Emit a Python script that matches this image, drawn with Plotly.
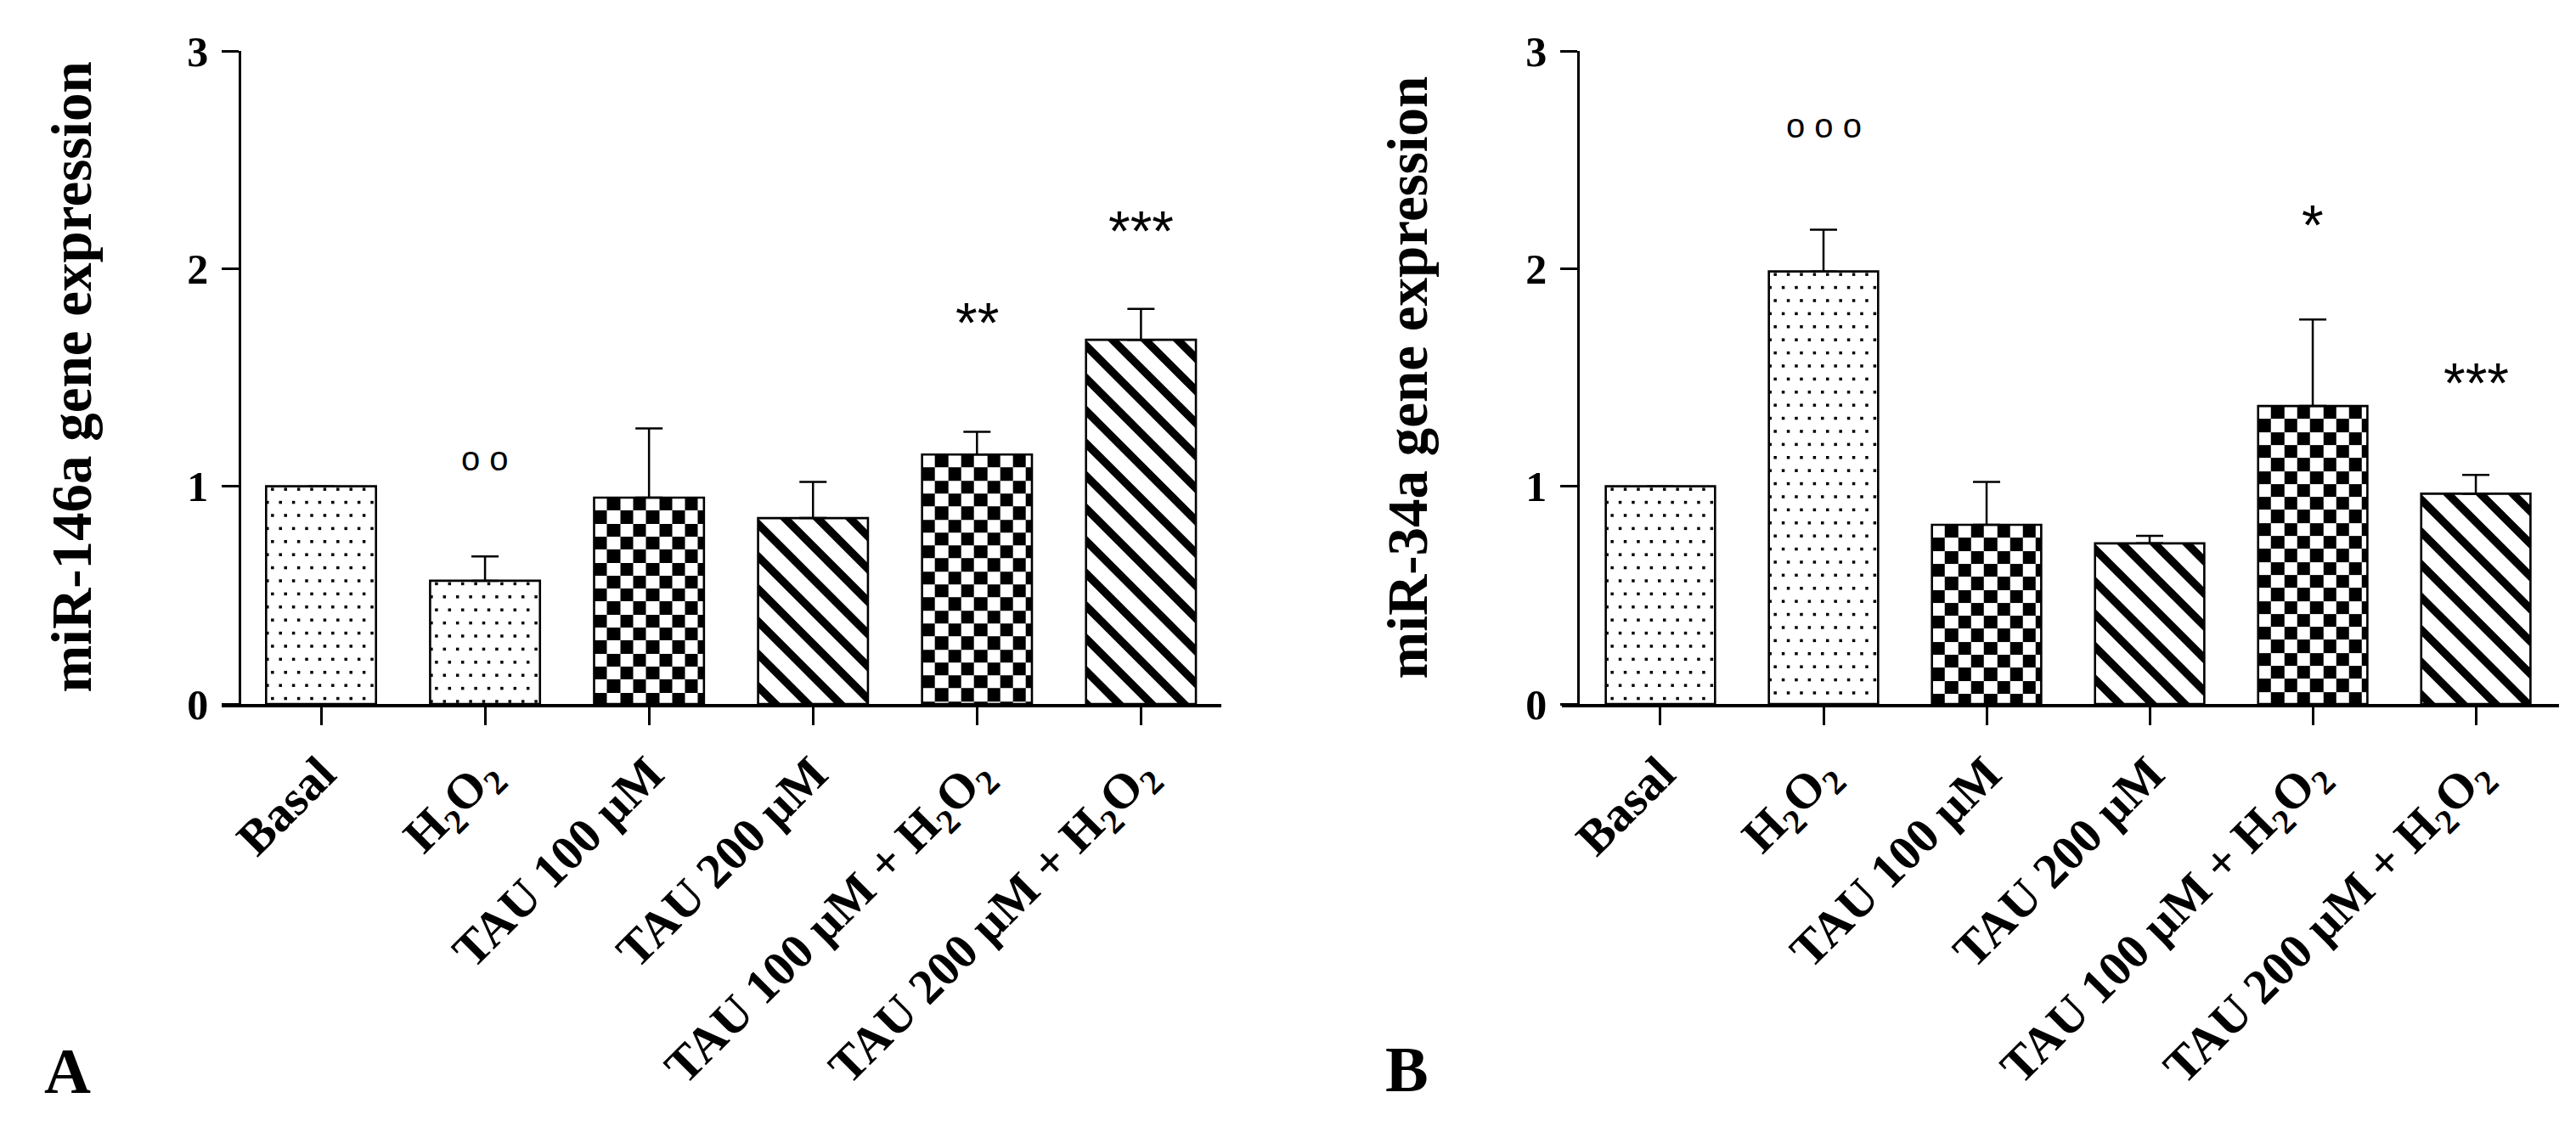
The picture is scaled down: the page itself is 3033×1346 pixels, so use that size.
import plotly.graph_objects as go

# ---------------- data ----------------
categories = ["Basal", "H<sub>2</sub>O<sub>2</sub>", "TAU 100 µM", "TAU 200 µM",
              "TAU 100 µM + H<sub>2</sub>O<sub>2</sub>", "TAU 200 µM + H<sub>2</sub>O<sub>2</sub>"]
fills = ["dots", "dots", "checker", "stripes", "checker", "stripes"]

mir146a_mean = [1.00, 0.566, 0.948, 0.854, 1.146, 1.673]
mir146a_err = [0.0, 0.112, 0.318, 0.166, 0.104, 0.142]
mir146a_sig = ["", "o o", "", "", "**", "***"]
mir146a_sig_y = [None, 1.117, None, None, 1.773, 2.193]

mir34a_mean = [1.00, 1.987, 0.823, 0.738, 1.369, 0.966]
mir34a_err = [0.0, 0.192, 0.197, 0.034, 0.397, 0.086]
mir34a_sig = ["", "o o o", "", "", "*", "***"]
mir34a_sig_y = [None, 2.646, None, None, 2.218, 1.496]

y_ticks = [0, 1, 2, 3]
panel_titles = ["miR-146a gene expression", "miR-34a gene expression"]
panel_letters = ["A", "B"]

# ---------------- geometry / style ----------------
W, H = 3033, 1346
SERIF = "Liberation Serif, Times New Roman, serif"
SANS = "Liberation Sans, Arial, sans-serif"
BAR_W = 0.67
YDOM = [1 - 829 / H, 1 - 60 / H]
YR = [0, 3]
panels = [
    dict(xdom=[261 / W, 1438 / W], ypos=282 / W, xr=[-0.606, 5.49],
         title_x=84 / W, letter_x=79 / W, letter_y=1 - 1261 / H),
    dict(xdom=[1839 / W, 3013 / W], ypos=1858 / W, xr=[-0.604, 5.51],
         title_x=1657 / W, letter_x=1656 / W, letter_y=1 - 1259 / H),
]
CELL_PX = 15.3        # checkerboard cell
DOT_STEP = 15.4       # dot lattice spacing
STRIPE_P = 38.3       # stripe horizontal period
STRIPE_T = 13.3       # stripe horizontal black width

x_pos = list(range(len(categories)))

fig = go.Figure()


def clip_poly(poly, w, h):
    """Sutherland-Hodgman clip of polygon to rectangle [0,w]x[0,h]."""
    def clip(pts, inside, inter):
        out = []
        n = len(pts)
        for i in range(n):
            cur, prev = pts[i], pts[i - 1]
            ci, pi = inside(cur), inside(prev)
            if ci:
                if not pi:
                    out.append(inter(prev, cur))
                out.append(cur)
            elif pi:
                out.append(inter(prev, cur))
        return out

    def ix(xv):
        return lambda p, q: (xv, p[1] + (q[1] - p[1]) * (xv - p[0]) / (q[0] - p[0]))

    def iy(yv):
        return lambda p, q: (p[0] + (q[0] - p[0]) * (yv - p[1]) / (q[1] - p[1]), yv)

    pts = poly
    for inside, inter in [(lambda p: p[0] >= 0, ix(0)), (lambda p: p[0] <= w, ix(w)),
                          (lambda p: p[1] >= 0, iy(0)), (lambda p: p[1] <= h, iy(h))]:
        if not pts:
            break
        pts = clip(pts, inside, inter)
    return pts


def add_panel(i, means, errs, sigs, sig_y):
    p = panels[i]
    xa = "x" if i == 0 else "x2"
    ya = "y" if i == 0 else "y2"
    plot_w = (p["xdom"][1] - p["xdom"][0]) * W
    plot_h = (YDOM[1] - YDOM[0]) * H
    sx = plot_w / (p["xr"][1] - p["xr"][0])   # px per x unit
    sy = plot_h / (YR[1] - YR[0])             # px per y unit
    dx, dy = CELL_PX / sx, CELL_PX / sy

    # checkerboard fills as heatmaps inside bar extents
    for xc, v, f in zip(x_pos, means, fills):
        if f != "checker":
            continue
        left, right = xc - BAR_W / 2, xc + BAR_W / 2
        xe = [left]
        while xe[-1] + dx < right - 1e-9:
            xe.append(xe[-1] + dx)
        xe.append(right)
        yt = [v]
        while yt[-1] - dy > 1e-9:
            yt.append(yt[-1] - dy)
        yt.append(0.0)
        ye = yt[::-1]
        nr, nc = len(ye) - 1, len(xe) - 1
        z = [[((nr - 1 - r) + c) % 2 for c in range(nc)] for r in range(nr)]
        fig.add_trace(go.Heatmap(x=xe, y=ye, z=z, zmin=0, zmax=1,
                                 colorscale=[[0, "white"], [1, "black"]],
                                 showscale=False, hoverinfo="skip",
                                 xaxis=xa, yaxis=ya))

    colors = {"dots": "white", "checker": "rgba(0,0,0,0)", "stripes": "white"}
    fig.add_trace(go.Bar(
        x=x_pos, y=means, width=BAR_W,
        marker=dict(color=[colors[f] for f in fills],
                    line=dict(color="black", width=2.6)),
        error_y=dict(type="data", symmetric=False, array=errs,
                     arrayminus=[0] * len(errs), color="black",
                     thickness=2.5, width=16),
        xaxis=xa, yaxis=ya, showlegend=False, hoverinfo="skip"))

    # dotted and striped fills drawn inside each bar
    for xc, v, f in zip(x_pos, means, fills):
        left = xc - BAR_W / 2
        wpx = BAR_W * sx
        hpx = v * sy
        if f == "dots":
            dxs, dys = [], []
            r = 0
            Y = 3.5
            while Y < hpx - 1.5:
                X = 7.5 if r % 2 == 0 else 1.5
                while X <= wpx - 0.5:
                    dxs.append(left + X / sx)
                    dys.append(v - Y / sy)
                    X += DOT_STEP
                Y += DOT_STEP
                r += 1
            fig.add_trace(go.Scatter(x=dxs, y=dys, mode="markers",
                                     marker=dict(symbol="square", size=3.5, color="black",
                                                 line=dict(width=0)),
                                     xaxis=xa, yaxis=ya, showlegend=False, hoverinfo="skip"))
        elif f == "stripes":
            v0 = -7.0
            M = hpx + wpx + 100
            kmin = int((-hpx - v0 - STRIPE_T) // STRIPE_P) - 1
            kmax = int((wpx - v0 + STRIPE_T) // STRIPE_P) + 1
            for k in range(kmin, kmax + 1):
                a = v0 + k * STRIPE_P - STRIPE_T / 2
                b = a + STRIPE_T
                band = [(a - M, -M), (b - M, -M), (b + M, M), (a + M, M)]
                poly = clip_poly(band, wpx, hpx)
                if len(poly) < 3:
                    continue
                px = [left + q[0] / sx for q in poly] + [left + poly[0][0] / sx]
                py = [v - q[1] / sy for q in poly] + [v - poly[0][1] / sy]
                fig.add_trace(go.Scatter(x=px, y=py, mode="lines", fill="toself",
                                         fillcolor="black", line=dict(width=0, color="black"),
                                         xaxis=xa, yaxis=ya, showlegend=False,
                                         hoverinfo="skip"))

    for xc, s, sy_ in zip(x_pos, sigs, sig_y):
        if not s:
            continue
        if "*" in s:
            font = dict(family=SANS, size=66, color="black")
            shift = -5
        else:
            font = dict(family=SANS, size=40, color="black")
            shift = 3
        fig.add_annotation(x=xc, y=sy_, xref=xa, yref=ya, text=s, showarrow=False,
                           font=font, xanchor="center", yanchor="middle", yshift=shift)

    fig.add_annotation(x=p["title_x"], y=(YDOM[0] + YDOM[1]) / 2, xref="paper", yref="paper",
                       text=panel_titles[i], textangle=-90, showarrow=False,
                       font=dict(family=SERIF, size=67, color="black", weight="bold"),
                       xanchor="center", yanchor="middle")
    fig.add_annotation(x=p["letter_x"], y=p["letter_y"], xref="paper", yref="paper",
                       text=panel_letters[i], showarrow=False,
                       font=dict(family=SERIF, size=76, color="black", weight="bold"),
                       xanchor="center", yanchor="middle")


add_panel(0, mir146a_mean, mir146a_err, mir146a_sig, mir146a_sig_y)
add_panel(1, mir34a_mean, mir34a_err, mir34a_sig, mir34a_sig_y)

xaxis_common = dict(tickmode="array", tickvals=x_pos, ticktext=categories, tickangle=-45,
                    ticks="outside", ticklen=21, tickwidth=2.5, tickcolor="black",
                    showline=True, linecolor="black", linewidth=3.5,
                    showgrid=False, zeroline=False, automargin=False,
                    tickfont=dict(family=SERIF, size=58, color="black", weight="bold"))
yaxis_common = dict(range=YR, domain=YDOM, tickmode="array", tickvals=y_ticks,
                    ticks="outside", ticklen=20, tickwidth=2.5, tickcolor="black",
                    showline=True, linecolor="black", linewidth=2.5,
                    showgrid=False, zeroline=False, anchor="free", automargin=False,
                    ticklabelstandoff=6,
                    tickfont=dict(family=SERIF, size=50, color="black", weight="bold"))

fig.update_layout(
    width=W, height=H, margin=dict(l=0, r=0, t=0, b=0, autoexpand=False),
    paper_bgcolor="white", plot_bgcolor="white", showlegend=False,
    xaxis=dict(xaxis_common, domain=panels[0]["xdom"], range=panels[0]["xr"], anchor="y"),
    yaxis=dict(yaxis_common, position=panels[0]["ypos"]),
    xaxis2=dict(xaxis_common, domain=panels[1]["xdom"], range=panels[1]["xr"], anchor="y2"),
    yaxis2=dict(yaxis_common, position=panels[1]["ypos"]),
)

post = "document.body.style.margin='0';document.body.style.overflow='hidden';"
fig.write_html("out.html", config={"displayModeBar": False}, post_script=post)
